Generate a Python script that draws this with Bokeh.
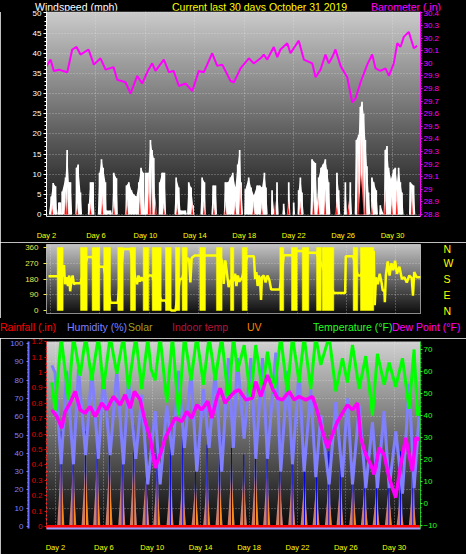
import numpy as np
from bokeh.plotting import figure
from bokeh.layouts import column
from bokeh.models import (Range1d, LinearAxis, FixedTicker, SingleIntervalTicker,
                          PrintfTickFormatter, CustomJSTickFormatter, Grid, Div)
from bokeh.embed import file_html
from bokeh.resources import INLINE

FONT = "Liberation Sans"

# ---------------- data ----------------
day_ticks = [2, 6, 10, 14, 18, 22, 26, 30]

baro_days = [1.85, 2.33, 2.59, 3.00, 3.68, 4.08, 4.43, 4.75, 5.40, 5.83, 6.37, 6.78, 7.42, 7.72,
             8.39, 8.80, 9.34, 9.74, 10.25, 10.55, 10.82, 11.49, 11.90, 12.28, 12.71, 13.25,
             13.79, 14.32, 14.73, 15.41, 15.81, 16.22, 16.89, 17.16, 17.70, 18.37, 18.77, 19.32,
             19.58, 19.86, 20.39, 20.67, 20.93, 21.48, 21.74, 22.41, 22.82, 23.50, 23.77, 24.17,
             24.57, 24.84, 25.12, 25.38, 25.79, 26.33, 26.73, 27.00, 27.41, 27.95, 28.35, 28.62,
             29.02, 29.43, 29.70, 30.10, 30.38, 30.64, 30.91, 31.31, 31.72, 31.99]
baro_in = [29.95, 30.03, 29.94, 29.95, 29.93, 30.11, 30.13, 30.07, 30.11, 29.99, 30.04, 29.95,
           29.97, 29.87, 29.85, 29.76, 29.90, 29.84, 29.95, 30.00, 29.94, 30.03, 29.93, 29.94,
           29.82, 29.84, 29.78, 29.94, 29.93, 30.08, 29.98, 29.99, 29.86, 29.85, 29.96, 30.04,
           30.00, 30.04, 30.07, 30.03, 30.13, 30.05, 30.11, 30.16, 30.08, 30.18, 30.03, 30.00,
           29.89, 29.95, 30.07, 30.00, 30.05, 30.11, 29.98, 29.89, 29.69, 29.72, 29.85, 29.99,
           30.07, 29.96, 29.94, 29.96, 29.90, 30.00, 30.16, 30.13, 30.21, 30.25, 30.12, 30.14]

wind_days = [2.19, 2.38, 2.54, 2.73, 2.86, 3.00, 3.13, 3.21, 3.27, 3.54, 3.67, 3.81, 3.94, 4.08,
             4.35, 4.43, 4.56, 4.75, 4.88, 5.34, 5.42, 5.56, 5.77, 5.88, 6.15, 6.29, 6.45, 6.58,
             6.77, 6.85, 7.18, 7.31, 7.44, 7.66, 7.77, 8.39, 8.47, 8.66, 8.87, 9.06, 9.28, 9.47,
             9.65, 9.82, 9.92, 10.01, 10.27, 10.41, 10.54, 10.68, 10.81, 11.08, 11.16, 11.35,
             11.54, 11.68, 12.35, 12.49, 12.70, 12.84, 13.24, 13.37, 13.51, 13.70, 13.86, 13.97,
             14.45, 14.59, 14.78, 14.88, 15.34, 15.48, 15.67, 15.80, 16.34, 16.47, 16.69, 16.88,
             17.07, 17.28, 17.47, 17.63, 17.74, 17.90, 18.01, 18.09, 18.36, 18.55, 18.77, 19.04,
             19.25, 19.44, 19.63, 19.76, 19.90, 20.17, 20.25, 20.44, 20.57, 20.65, 20.79, 21.08,
             21.19, 21.33, 21.51, 21.60, 21.73, 21.92, 22.00, 22.11, 22.32, 22.40, 22.54, 22.67,
             22.81, 23.35, 23.48, 23.75, 23.89, 24.02, 24.21, 24.37, 24.56, 24.70, 24.83, 24.97,
             25.40, 25.50, 25.64, 25.77, 26.07, 26.18, 26.31, 26.47, 26.58, 26.72, 26.93, 27.07,
             27.26, 27.39, 27.53, 27.66, 27.80, 27.93, 28.06, 28.20, 28.25, 28.33, 28.47, 28.68,
             28.82, 28.93, 29.01, 29.28, 29.41, 29.55, 29.68, 29.87, 30.08, 30.22, 30.36, 30.49,
             30.63, 30.76, 30.89, 31.33, 31.43, 31.70, 31.84]
wind_mph = [0, 4.5, 7.8, 7, 0, 3, 3, 0, 5.7, 9.2, 16, 8, 8, 0,
            0, 11.6, 12.4, 5.5, 0, 0, 2.7, 8, 8, 0, 0, 10.4, 13.7, 11.6,
            8, 1, 1, 0, 10.4, 9, 0, 0, 7.2, 8, 6, 5, 4.5, 8,
            11.6, 10.4, 1, 10.4, 10.4, 18.5, 16, 14, 0, 0, 8, 10.4,
            10.4, 0, 0, 9.2, 6.7, 1, 1, 0, 8, 6.7, 2.3, 0,
            0, 9.2, 8, 0, 0, 7.2, 7.2, 0, 0, 8, 8, 9.2,
            10.4, 6.7, 12.4, 16, 8, 0, 0, 6.3, 9.2, 6.7, 4.7, 7.2,
            7.2, 6.7, 10.4, 6.7, 0, 0, 6, 0, 0, 8, 0, 0,
            2.7, 0, 0, 8, 0, 0, 3, 0, 0, 6, 9.2, 5.5,
            0, 0, 13.7, 12.8, 3, 9.2, 11.6, 12.4, 13.7, 11.2, 8, 0,
            0, 10.4, 6, 0, 0, 8, 0, 0, 8, 0, 0, 18.5,
            19.8, 26.7, 28, 25, 18.5, 12, 5.5, 0, 0, 9.2, 8, 6,
            0, 0, 2.3, 0, 16, 17, 11.6, 8.8, 11.2, 11.6, 8, 11.6,
            8, 5.5, 0, 0, 8, 7.2, 0]

avg_days = [2.46, 3.54, 3.68, 4.49, 5.56, 6.51, 7.45, 8.53, 9.55, 10.28, 10.50, 10.82, 11.49,
            12.58, 13.79, 14.73, 15.54, 16.48, 17.27, 17.67, 18.75, 19.42, 20.50, 21.58, 22.53,
            23.60, 24.00, 24.55, 25.49, 26.44, 27.20, 27.40, 27.60, 27.80, 28.32, 29.40, 29.94,
            30.34, 31.56]
avg_mph = [2.5, 6, 7, 3, 3, 5, 3.5, 4, 6, 10, 12, 5, 3, 3, 3, 3.5, 3, 3.5, 3.5, 7.5, 3.5, 3,
           3.5, 3.5, 3.5, 6.5, 4.5, 6.5, 3.5, 3.5, 16, 20, 19, 12, 3.5, 6.5, 4.5, 6.5, 6.5]
calm_days = [27.45]
calm_mph = [10.0]

dir_band_start = [2.55, 4.44, 5.38, 6.32, 7.46, 8.49, 9.52, 10.25, 11.33, 12.14, 12.68, 14.11,
                  15.46, 16.60, 17.55, 20.60, 21.55, 22.42, 23.58, 24.04, 26.55, 27.14]
dir_band_end = [3.03, 4.98, 6.00, 6.87, 7.90, 8.90, 9.97, 10.98, 11.79, 12.49, 13.09, 14.57,
                15.92, 16.87, 17.95, 20.92, 22.01, 22.95, 23.96, 24.98, 26.92, 28.22]
dir_days = [1.84, 2.55, 3.03, 3.10, 3.18, 3.30, 3.42, 3.52, 3.60, 3.70, 3.80, 3.90, 4.00, 4.44,
            4.98, 5.38, 6.00, 6.32, 6.87, 7.46, 7.90, 8.49, 8.90, 9.02, 9.14, 9.26, 9.38, 9.52,
            9.97, 10.25, 10.98, 11.33, 11.79, 12.14, 12.49, 12.68, 13.09, 13.25, 13.35, 13.45,
            13.70, 14.11, 14.57, 15.46, 15.92, 16.05, 16.18, 16.32, 16.45, 16.60, 16.87, 16.98,
            17.08, 17.20, 17.32, 17.55, 17.95, 18.50, 18.60, 18.70, 18.80, 18.90, 19.00, 19.08,
            19.15, 19.30, 19.45, 19.60, 19.75, 19.90, 20.60, 20.92, 21.55, 22.01, 22.42, 22.95,
            23.58, 24.98, 25.90, 25.95, 26.55, 26.92, 27.14, 28.22, 28.30, 28.40, 28.55, 28.70,
            28.85, 28.95, 29.08, 29.12, 29.20, 29.35, 29.50, 29.65, 29.80, 29.95, 30.10, 30.30,
            30.50, 30.70, 30.90, 31.10, 31.30, 31.40, 31.50, 31.70, 32.10]
dir_deg = [195, 195, 200, 260, 150, 190, 140, 200, 110, 175, 200, 150, 156, 156,
           305, 305, 250, 250, 45, 45, 352, 352, 180, 150, 200, 165, 190, 170,
           200, 200, 57, 57, 0, 0, 180, 180, 300, 290, 160, 300,
           314, 314, 314, 314, 286, 152, 286, 210, 133, 171, 171, 210,
           140, 200, 165, 190, 310, 310, 180, 220, 140, 200, 170, 60,
           190, 200, 160, 200, 175, 120, 120, 315, 315, 340, 340, 330,
           330, 100, 100, 310, 310, 200, 200, 340, 30, 190, 150, 210,
           160, 114, 114, 48, 200, 280, 200, 270, 230, 285, 210, 250,
           180, 190, 160, 200, 185, 85, 220, 190, 190]

temp_days = [1.70, 1.98, 2.47, 3.07, 3.49, 4.04, 4.50, 5.00, 5.55, 5.97, 6.52, 7.07, 7.62, 8.03,
             8.64, 9.13, 9.63, 9.90, 10.24, 10.65, 11.20, 11.67, 12.17, 12.66, 13.21, 13.68,
             14.23, 14.70, 15.20, 15.74, 16.30, 16.71, 17.04, 17.60, 18.14, 18.55, 19.11, 19.52,
             20.07, 20.62, 21.17, 21.59, 22.14, 22.55, 23.10, 23.51, 23.93, 24.62, 25.17, 25.72,
             26.13, 26.55, 27.10, 27.65, 28.20, 28.61, 29.17, 29.58, 30.12, 30.68, 31.23, 31.64,
             31.92, 32.15]
temp_f = [55, 42, 76, 47, 76, 58, 76, 56, 76, 52, 76, 59, 76, 52, 76, 52, 75, 61, 56, 76,
          46, 76, 40, 76, 56, 76, 54, 76, 56, 76, 46, 76, 60, 72, 47, 72, 51, 69, 50, 76,
          50, 76, 55, 76, 52, 76, 63, 76, 51, 66, 55, 72, 52, 67, 40, 68, 54, 64, 53, 66,
          43, 70, 40, 44]

hum_days = [1.70, 1.97, 2.47, 2.93, 3.49, 3.90, 4.50, 5.00, 5.55, 5.96, 6.52, 7.07, 7.62, 8.03,
            8.64, 9.13, 9.63, 10.24, 10.65, 11.20, 11.67, 12.17, 12.66, 13.21, 13.68, 14.23,
            14.70, 15.20, 15.74, 16.29, 16.71, 17.04, 17.59, 18.15, 18.56, 19.11, 19.52, 20.21,
            20.62, 21.18, 21.59, 22.14, 22.55, 23.10, 23.52, 23.93, 24.62, 25.17, 25.72, 26.13,
            26.55, 27.10, 27.65, 28.20, 28.61, 29.16, 29.58, 30.13, 30.68, 31.23, 31.64, 32.06]
hum_pct = [88, 84, 34, 85, 34, 86, 39, 86, 37, 83, 39, 85, 34, 81, 37, 72, 23, 63, 23, 66,
           39, 85, 43, 85, 30, 75, 43, 85, 30, 92, 43, 92, 48, 92, 37, 92, 37, 95, 30, 85,
           34, 86, 30, 75, 27, 61, 23, 68, 27, 70, 23, 66, 21, 57, 21, 63, 21, 52, 18, 78,
           21, 61]

dew_days = [1.70, 2.11, 2.52, 2.80, 3.21, 3.63, 4.04, 4.45, 4.87, 5.28, 5.83, 6.24, 6.79, 7.35,
            7.76, 8.17, 8.53, 9.00, 9.41, 9.83, 10.24, 10.65, 11.07, 11.48, 11.89, 12.44, 12.85,
            13.26, 13.68, 14.09, 14.59, 14.92, 15.33, 15.61, 16.02, 16.44, 16.85, 17.18, 17.73,
            18.28, 18.55, 18.97, 19.52, 19.93, 20.35, 20.76, 21.31, 21.73, 22.14, 22.69, 23.24,
            23.65, 24.07, 24.48, 24.89, 25.31, 25.72, 26.13, 26.55, 26.96, 27.23, 27.65, 28.06,
            28.34, 28.75, 29.16, 29.58, 30.12, 30.54, 30.95, 31.50, 31.78, 32.15]
dew_f = [42.6, 39.6, 34.3, 41.8, 45.6, 50.9, 42.6, 41.1, 44.1, 39.6, 45.6, 42.6, 48.6, 44.8,
         49.4, 43.3, 50.9, 47.1, 37.3, 29.8, 16.2, 22.2, 29.8, 34.3, 38.8, 37.3, 41.8, 38.8,
         44.8, 42.6, 46.4, 38.8, 47.9, 52.4, 45.6, 48.6, 50.9, 51.6, 47.1, 47.9, 55.4, 48.6,
         58.4, 52.4, 47.9, 47.1, 50.9, 47.1, 48.6, 47.1, 48.6, 41.8, 32.8, 25.3, 31.3, 37.3,
         41.1, 44.8, 42.6, 45.6, 29.8, 22.2, 17.7, 13.2, 25.3, 22.2, 11.7, 2.7, 17.7, 29.8,
         14.7, 29.8, 29.1]

sun_days = [2.47, 3.46, 4.48, 5.44, 6.46, 7.51, 8.47, 9.49, 10.40, 11.50, 12.52, 13.57, 14.53,
            15.55, 16.55, 17.56, 18.53, 19.49, 20.54, 21.56, 22.58, 23.57, 24.59, 25.55, 26.60,
            27.56, 28.53, 29.55, 30.51, 31.53]
uv_index = [3.9, 3.5, 3.7, 3.8, 3.7, 3.4, 3.7, 3.1, 3.0, 2.8, 2.8, 2.5, 2.7, 3.0, 3.2, 3.0,
            3.4, 3.2, 3.0, 2.8, 2.7, 2.5, 2.6, 2.6, 2.4, 2.3, 2.1, 2.4, 1.9, 2.5]
solar_wm2 = [520, 447, 520, 502, 484, 493, 556, 266, 429, 466, 511, 303, 447, 466, 429, 393,
             484, 447, 375, 411, 320, 339, 411, 375, 339, 339, 303, 248, 411, 484]

rain_days = [1, 2, 3, 4, 5, 6, 7, 8, 9, 10, 11, 12, 13, 14, 15, 16, 17, 18, 19, 20, 21, 22,
             23, 24, 25, 26, 27, 28, 29, 30, 31, 32, 33]
rain_in = [0.0, 0.0, 0.0, 0.0, 0.0, 0.0, 0.0, 0.0, 0.0, 0.0, 0.0, 0.0, 0.0, 0.0, 0.0, 0.0, 0.0,
           0.0, 0.0, 0.0, 0.0, 0.0, 0.0, 0.0, 0.0, 0.0, 0.0, 0.0, 0.0, 0.0, 0.0, 0.0, 0.0]

title_texts = ["Windspeed (mph)", "Current last 30 days October 31 2019", "Barometer (.in)"]
title_colors = ["#ffffff", "#ffff00", "#ff00ff"]
legend_texts = ["Rainfall (.in)", "Humidity (%)", "Solar", "Indoor temp", "UV",
                "Temperature (°F)", "Dew Point (°F)"]
legend_colors = ["#ff0000", "#8080ff", "#a0a020", "#b4143c", "#ff8000", "#20ff20", "#ff00ff"]

# ---------------- layout constants ----------------
W = 466
LB, RB = 46, 46            # common frame borders (frames are aligned in a column)
X1 = (2.00, 32.26)
X2 = (1.68, 32.01)
X3 = (1.26, 32.17)
WIND_R = (-0.48, 50.36)
BARO_R = (28.8 + WIND_R[0] * 0.032, 28.8 + WIND_R[1] * 0.032)
DIR_R = (-17.1, 377.1)
HUM_R = (-1.1, 101.1)
TEMP_R = (-11.36, 73.62)
RAIN_R = (-0.0129, 1.2015)
UV_R = (RAIN_R[0] * 10, RAIN_R[1] * 10)
SOLAR_R = (HUM_R[0] * 10, HUM_R[1] * 10)

ONE_DEC = CustomJSTickFormatter(code="return String(Math.round(tick * 10) / 10);")


def gradient(p, xr, yr, top, bottom):
    n = 96
    lv = np.linspace(bottom, top, n)
    pal = ["#%02x%02x%02x" % (int(v), int(v), int(v)) for v in lv]
    img = np.arange(n, dtype=float).reshape(n, 1)
    p.image(image=[img], x=xr[0], y=yr[0], dw=xr[1] - xr[0], dh=yr[1] - yr[0],
            palette=pal, level="image")


def spikes(days, vals, half, shift=0.0):
    xs = [[d + shift - half, d + shift, d + shift + half] for d in days]
    ys = [[0, v, 0] for v in vals]
    return xs, ys


def grid_style(g):
    g.grid_line_color = "#e8e8e8"
    g.grid_line_alpha = 0.5
    g.grid_line_dash = "1 2"


def axis_font(ax, color, size="8px"):
    ax.major_label_text_color = color
    ax.major_label_text_font = FONT
    ax.major_label_text_font_size = size


def mk(height, xr, yr, t, b, **kw):
    return figure(width=W, height=height, x_range=Range1d(*xr), y_range=Range1d(*yr),
                  output_backend="svg", toolbar_location=None,
                  min_border_left=LB, min_border_right=RB, min_border_top=t, min_border_bottom=b,
                  background_fill_color="black", border_fill_color="black",
                  outline_line_color=None, **kw)


def text_strip(height, lefts, texts, colors, top):
    spans = "".join(
        '<span style="position:absolute;left:%dpx;top:%dpx;color:%s;white-space:nowrap">%s</span>'
        % (x, top, c, t) for x, t, c in zip(lefts, texts, colors))
    html = ('<div style="position:relative;width:%dpx;height:%dpx;background:#000;'
            "font-family:'%s';font-size:10.5px;line-height:10px;overflow:hidden\">%s</div>"
            % (W, height, FONT, spans))
    return Div(text=html, width=W, height=height, margin=0,
               styles={"background-color": "black"})


# ================= title strip =================
t1 = text_strip(10, [35, 172, 371], title_texts, title_colors, 0)

# ================= panel 1 : wind + barometer =================
p1 = mk(232, X1, WIND_R, 1, 21)
p1.extra_y_ranges = {"baro": Range1d(*BARO_R)}
gradient(p1, X1, WIND_R, 202, 22)

p1.varea(x=wind_days, y1=0, y2=wind_mph, fill_color="white")
p1.vbar(x=wind_days, top=wind_mph, width=0.14, fill_color="white", line_color=None)
xs, ys = spikes(avg_days, avg_mph, 0.09)
p1.patches(xs, ys, fill_color="#ff9a9a", line_color=None)
xs, ys = spikes(avg_days, [v * 0.55 for v in avg_mph], 0.07)
p1.patches(xs, ys, fill_color="#ff1010", line_color=None)
xs, ys = spikes(calm_days, calm_mph, 0.2)
p1.patches(xs, ys, fill_color="black", line_color=None)
p1.line(baro_days, baro_in, y_range_name="baro", line_color="#ff00ff", line_width=2)

p1.yaxis.ticker = SingleIntervalTicker(interval=5, num_minor_ticks=5)
p1.ygrid.ticker = SingleIntervalTicker(interval=5)
p1.xaxis.ticker = FixedTicker(ticks=day_ticks)
p1.xgrid.ticker = FixedTicker(ticks=day_ticks)
for g in (p1.xgrid[0], p1.ygrid[0]):
    grid_style(g)
ya = p1.yaxis[0]
axis_font(ya, "white")
ya.axis_line_color = "white"
ya.major_tick_line_color = "white"
ya.minor_tick_line_color = "white"
ya.major_tick_out, ya.major_tick_in = 3, 0
ya.minor_tick_out, ya.minor_tick_in = 2, 0
ya.major_label_standoff = 2
xa = p1.xaxis[0]
xa.formatter = PrintfTickFormatter(format="Day %d")
axis_font(xa, "#ffff00", "7.5px")
xa.axis_line_color = "#e0e0e0"
xa.major_tick_line_color = None
xa.minor_tick_line_color = None
xa.major_label_standoff = 8
baro_ax = LinearAxis(y_range_name="baro",
                     ticker=SingleIntervalTicker(interval=0.1, num_minor_ticks=5),
                     formatter=ONE_DEC)
axis_font(baro_ax, "#ff00ff")
baro_ax.axis_line_color = "#ff00ff"
baro_ax.major_tick_line_color = "#ff00ff"
baro_ax.minor_tick_line_color = "#ff00ff"
baro_ax.major_tick_out, baro_ax.major_tick_in = 2, 0
baro_ax.minor_tick_out, baro_ax.minor_tick_in = 1, 0
baro_ax.major_label_standoff = 1
p1.add_layout(baro_ax, "right")

# ================= panel 2 : wind direction =================
p2 = mk(76, X2, DIR_R, 2, 5, x_axis_location=None)
p2.outline_line_color = "#b8b8b8"
gradient(p2, X2, DIR_R, 195, 14)
for g in list(p2.xgrid) + list(p2.ygrid):
    g.visible = False
gx2 = Grid(dimension=0, ticker=FixedTicker(ticks=day_ticks))
gy2 = Grid(dimension=1, ticker=FixedTicker(ticks=[90, 180, 270]))
for g in (gx2, gy2):
    grid_style(g)
    p2.add_layout(g)
p2.quad(left=dir_band_start, right=dir_band_end, bottom=0, top=360,
        fill_color="#ffff00", line_color="#ffff00", line_width=0.5)
p2.line(dir_days, dir_deg, line_color="#ffff00", line_width=2.5)

ya2 = p2.yaxis[0]
ya2.ticker = FixedTicker(ticks=[0, 90, 180, 270, 360])
axis_font(ya2, "#e8e850")
ya2.axis_line_color = None
ya2.major_tick_line_color = "#e8e850"
ya2.major_tick_out, ya2.major_tick_in = 3, 0
ya2.minor_tick_line_color = None
ya2.major_label_standoff = 5
compass = LinearAxis(ticker=FixedTicker(ticks=[0, 90, 180, 270, 360]),
                     major_label_overrides={0: "N", 90: "E", 180: "S", 270: "W", 360: "N"})
axis_font(compass, "#ffff00", "10.5px")
compass.axis_line_color = None
compass.major_tick_line_color = None
compass.minor_tick_line_color = None
compass.major_label_standoff = 17
p2.add_layout(compass, "right")

# ================= legend strip =================
t3 = text_strip(20, [0, 67, 128, 172, 247, 313, 392], legend_texts, legend_colors, 4)

# ================= panel 3 : temperatures etc. =================
p3 = mk(216, X3, HUM_R, 3, 25, y_axis_location=None)
p3.extra_y_ranges = {"temp": Range1d(*TEMP_R), "rain": Range1d(*RAIN_R),
                     "uv": Range1d(*UV_R), "solar": Range1d(*SOLAR_R)}
gradient(p3, X3, HUM_R, 208, 8)
for g in p3.ygrid:
    g.visible = False
p3.xgrid.ticker = FixedTicker(ticks=day_ticks)
grid_style(p3.xgrid[0])
gy3 = Grid(dimension=1, ticker=SingleIntervalTicker(interval=10))
grid_style(gy3)
p3.add_layout(gy3)

xs, ys = spikes(sun_days, solar_wm2, 0.22)
p3.patches(xs, ys, y_range_name="solar", fill_color="#7b7bf0", fill_alpha=0.75, line_color=None)
xs, ys = spikes(sun_days, uv_index, 0.3, -0.03)
p3.patches(xs, ys, y_range_name="uv", fill_color="#c87e72", line_color=None)
xs, ys = spikes(sun_days, uv_index, 0.14, 0.04)
p3.patches(xs, ys, y_range_name="uv", fill_color="#ff8a1c", line_color=None)
p3.segment(x0=sun_days, y0=0, x1=sun_days, y1=solar_wm2, y_range_name="solar",
           line_color="#0000e0", line_width=1)
p3.line(hum_days, hum_pct, line_color="#8080ff", line_width=3)
p3.line(temp_days, temp_f, y_range_name="temp", line_color="#00ff00", line_width=3)
p3.line(dew_days, dew_f, y_range_name="temp", line_color="#ff00ff", line_width=3.5)
p3.line(rain_days, rain_in, y_range_name="rain", line_color="#ff0000", line_width=3)

rain_ax = LinearAxis(y_range_name="rain",
                     ticker=SingleIntervalTicker(interval=0.1, num_minor_ticks=2),
                     formatter=ONE_DEC)
axis_font(rain_ax, "#e00000")
rain_ax.axis_line_color = "#ff3030"
rain_ax.axis_line_dash = "2 2"
rain_ax.major_tick_line_color = "#ff0000"
rain_ax.minor_tick_line_color = "#ff0000"
rain_ax.major_tick_out, rain_ax.major_tick_in = 2, 0
rain_ax.minor_tick_out, rain_ax.minor_tick_in = 1, 0
rain_ax.major_label_standoff = 2
p3.add_layout(rain_ax, "left")
hum_ax = LinearAxis(ticker=SingleIntervalTicker(interval=10, num_minor_ticks=5))
axis_font(hum_ax, "#8080ff")
hum_ax.axis_line_color = "#6a6aff"
hum_ax.axis_line_width = 2
hum_ax.major_tick_line_color = "#8080ff"
hum_ax.minor_tick_line_color = "#8080ff"
hum_ax.major_tick_out, hum_ax.major_tick_in = 2, 0
hum_ax.minor_tick_out, hum_ax.minor_tick_in = 1, 0
hum_ax.major_label_standoff = 3
p3.add_layout(hum_ax, "left")
temp_ax = LinearAxis(y_range_name="temp",
                     ticker=SingleIntervalTicker(interval=10, num_minor_ticks=5))
axis_font(temp_ax, "#20ff20")
temp_ax.axis_line_color = "#20c020"
temp_ax.major_tick_line_color = "#20ff20"
temp_ax.minor_tick_line_color = "#20ff20"
temp_ax.major_tick_out, temp_ax.major_tick_in = 2, 0
temp_ax.minor_tick_out, temp_ax.minor_tick_in = 1, 0
temp_ax.major_label_standoff = 1
p3.add_layout(temp_ax, "right")
xa3 = p3.xaxis[0]
xa3.ticker = FixedTicker(ticks=day_ticks)
xa3.formatter = PrintfTickFormatter(format="Day %d")
axis_font(xa3, "#ffff00", "7.5px")
xa3.axis_line_color = "#a0a0ff"
xa3.axis_line_width = 2
xa3.major_tick_line_color = None
xa3.minor_tick_line_color = None
xa3.major_label_standoff = 8

layout = column(t1, p1, p2, t3, p3, spacing=0)
open("out.html", "w").write(file_html(layout, INLINE))
